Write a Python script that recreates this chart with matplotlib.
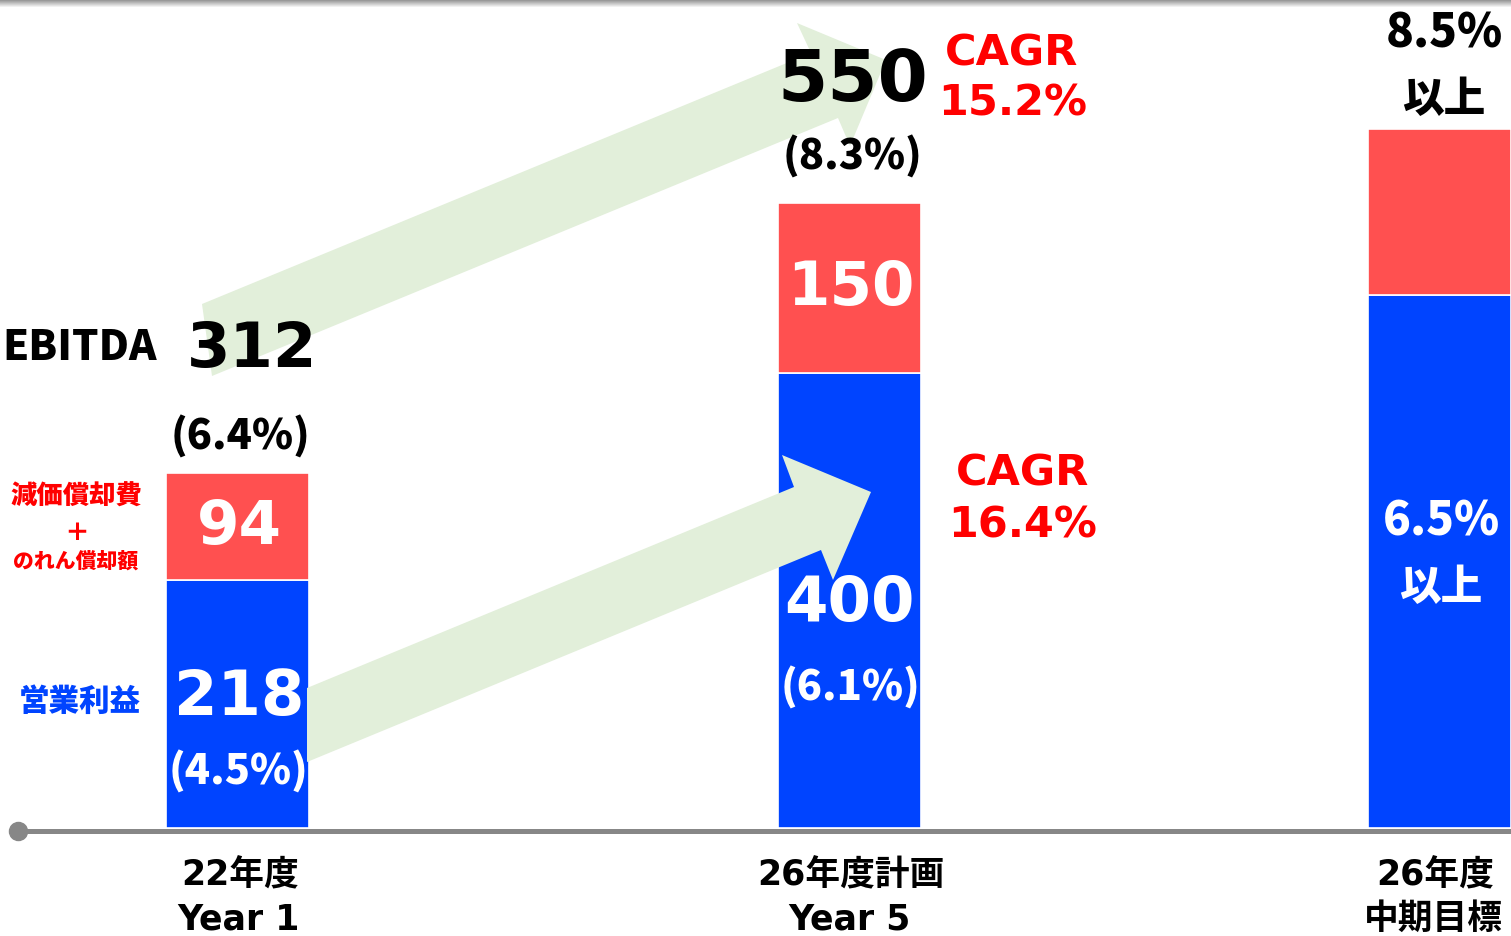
import matplotlib.pyplot as plt
from matplotlib.patches import Polygon
import numpy as np

# data
years = ['22年度', '26年度計画', '26年度']
years_sub = ['Year 1', 'Year 5', '中期目標']
operating_profit = [218, 400, 469]
amortization = [94, 150, 146]
op_margin = ['(4.5%)', '(6.1%)', '6.5%\n以上']
ebitda_margin = ['(6.4%)', '(8.3%)', '8.5%\n以上']
cagr_ebitda = 'CAGR\n15.2%'
cagr_op = 'CAGR\n16.4%'

# colours
BLUE = '#0044ff'
RED_BAR = '#ff5050'
RED_TXT = '#ff0000'
GREEN = '#e2efda'

W, H = 1511, 936
base = 828          # pixel row of the zero line
scale = 1.137       # pixels per unit
bar_x = [237, 849, 1439]
bar_w = 143

CJK = ['Noto Sans CJK JP', 'DejaVu Sans']
NUM = ['DejaVu Sans', 'Noto Sans CJK JP']
NARROW = ['Noto Sans CJK JP', 'DejaVu Sans']

fig = plt.figure(figsize=(W / 100, H / 100), dpi=100)
ax = fig.add_axes([0, 0, 1, 1])
ov = fig.add_axes([0, 0, 1, 1])
ov.axis('off')
ax.set_xlim(0, W)
ax.set_ylim(-(H - base) / scale, base / scale)
ax.axis('off')

# top shadow
grad = np.linspace(0.6, 1.0, 8).reshape(-1, 1)
ov.imshow(grad, cmap='gray', vmin=0, vmax=1, extent=(0, W, 8, 0), aspect='auto')
ov.set_xlim(0, W)
ov.set_ylim(H, 0)
px = ov.transData

# stacked bars
ax.bar(bar_x, operating_profit, width=bar_w, color=BLUE, edgecolor='white',
       linewidth=1.2, zorder=2)
ax.bar(bar_x, amortization, bottom=operating_profit, width=bar_w, color=RED_BAR,
       edgecolor='white', linewidth=1.2, zorder=2)

# growth arrows (pixel space)
arrow_lo = [(307, 688), (794, 487), (782, 455), (871, 492), (833, 580), (821, 550), (307, 762)]
arrow_hi = [(202, 304), (811, 53), (797, 23), (886, 60), (850, 146), (838, 118), (212, 376)]
for pts in (arrow_lo, arrow_hi):
    ax.add_patch(Polygon(pts, closed=True, facecolor=GREEN, edgecolor='none',
                         transform=px, zorder=3))

# baseline with dot
ax.plot([18, W], [830.5, 830.5], color='#878787', lw=3.6, transform=px,
        zorder=4, solid_capstyle='butt')
ax.plot([18], [831], 'o', color='#878787', ms=13, transform=px, zorder=4)


def t(x, y, s, size, color='black', family=NUM, weight='bold'):
    ax.text(x, y, s, fontsize=size, color=color, family=family, fontweight=weight,
            ha='center', va='center', transform=px, zorder=5)


# values inside bars (first two bars)
for i in range(2):
    xb = bar_x[i]
    red_mid = base - (operating_profit[i] + amortization[i] / 2) * scale
    t(xb + 2, red_mid + 1, str(amortization[i]), 44, 'white')
    t(xb + 2 - i * 2, [698, 604][i], str(operating_profit[i]), 45, 'white')
    t(xb + 2, [772, 688][i], op_margin[i], 30, 'white', NARROW, 'heavy')
    t(xb + 4, [437, 157][i], ebitda_margin[i], 30, 'black', NARROW, 'heavy')

t(252, 350, str(operating_profit[0] + amortization[0]), 45)
t(853, 82, str(operating_profit[1] + amortization[1]), 52)

# third bar: targets only
m1, m2 = op_margin[2].split('\n')
t(1441, 522, m1, 33, 'white', NARROW, 'heavy')
t(1441, 588, m2, 30, 'white', CJK, 'heavy')
e1, e2 = ebitda_margin[2].split('\n')
t(1444, 34, e1, 33, 'black', NARROW, 'heavy')
t(1444, 100, e2, 30, 'black', CJK, 'heavy')

# CAGR labels
c1, c2 = cagr_ebitda.split('\n')
t(1012, 53, c1, 31, RED_TXT)
t(1013, 104, c2, 31, RED_TXT)
c1, c2 = cagr_op.split('\n')
t(1023, 474, c1, 31, RED_TXT)
t(1023, 526, c2, 31, RED_TXT)

# left legend-style labels
t(80, 348, 'EBITDA', 30, 'black', NARROW, 'heavy')
t(76, 496, '減価償却費', 19, RED_TXT, CJK, 'heavy')
t(77, 533, '＋', 18, RED_TXT, CJK, 'heavy')
t(76, 561, 'のれん償却額', 15, RED_TXT, CJK, 'heavy')
t(80, 701, '営業利益', 22, BLUE, CJK, 'heavy')

# category labels
for xb, y1, y2, dx in zip(bar_x, years, years_sub, [3, 2, -4]):
    t(xb + dx, 875, y1, 25)
    t(xb + dx - 2, 919, y2, 25)

fig.savefig('out.png', dpi=100)
